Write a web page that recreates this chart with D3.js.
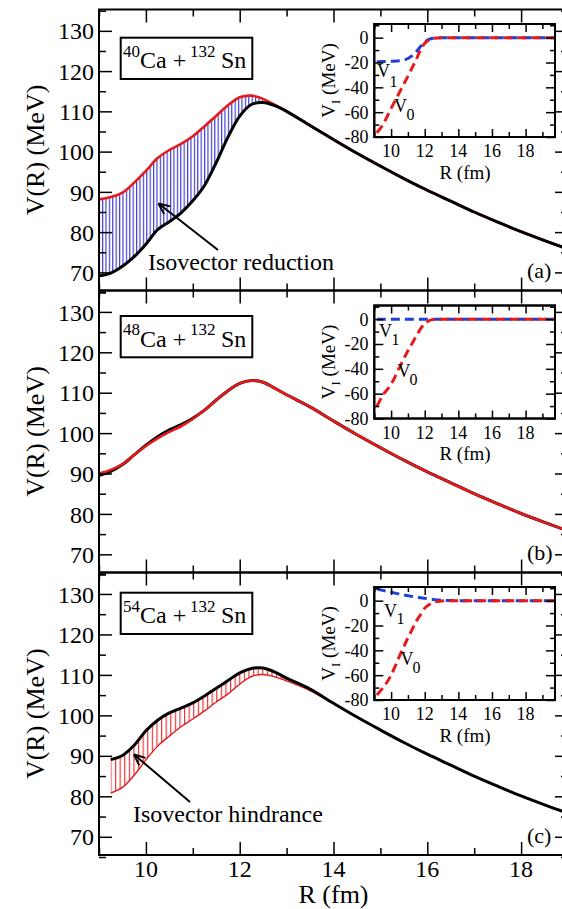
<!DOCTYPE html>
<meta charset="utf-8">
<style>
body { margin: 0; background: #fff; }
text { font-family: "Liberation Serif", "Times New Roman", Times, "Nimbus Roman", Tinos, "Noto Serif", "DejaVu Serif", serif; }
.frame { fill: none; stroke: #000; stroke-width: 2; }
.inframe { fill: #fff; stroke: #000; stroke-width: 2; }
.tk line { stroke: #000; stroke-width: 1.5; }
.tk path { display: none; }
.vblack { fill: none; stroke: #000; stroke-width: 3; }
.vred { fill: none; stroke: #e41a1c; stroke-width: 2.6; }
.vredthin { fill: none; stroke: #e41a1c; stroke-width: 1.4; }
.dash0 { fill: none; stroke: #e41a1c; stroke-width: 3; stroke-dasharray: 9,5; }
.dash1 { fill: none; stroke: #1f3fd8; stroke-width: 3; stroke-dasharray: 9,5; }
.arrow { stroke: #000; stroke-width: 2; fill: none; }
</style>
<body>
<script src="https://d3js.org/d3.v7.min.js"></script>
<script>
// ---- data ----
var rMain = [9.0, 9.25, 9.5, 9.75, 10.0, 10.25, 10.5, 10.75, 11.0, 11.25, 11.5, 11.75,
             12.0, 12.25, 12.5, 12.75, 13.0, 13.5, 14.0, 14.5, 15.0, 15.5, 16.0, 16.5,
             17.0, 17.5, 18.0, 18.5, 19.0];
// common Coulomb tail, R = 13.5 ... 19
var vTail = [106.5, 103.0, 99.6, 96.4, 93.3, 90.4, 87.7, 85.0, 82.5, 80.1, 77.9, 75.8];

// (a) 40Ca + 132Sn
var redA = [88.1, 88.7, 89.8, 92.3, 95.2, 98.4, 100.4, 101.9, 103.8, 106.3, 108.9, 111.5,
            113.5, 113.9, 113.1, 111.6, 110.0].concat(vTail);
var blackA = [69.1, 69.8, 71.5, 73.9, 77.0, 80.6, 82.6, 84.8, 87.8, 91.6, 97.3, 103.6,
              108.8, 111.7, 112.2, 111.4, 110.0].concat(vTail);
// (b) 48Ca + 132Sn
var redB = [90.0, 90.9, 92.3, 94.6, 96.8, 98.7, 100.3, 101.7, 103.5, 105.7, 108.2, 110.5,
            112.3, 113.0, 112.6, 111.1, 109.5].concat(vTail);
var blackB = [89.5, 90.5, 92.2, 94.6, 97.0, 99.1, 100.8, 102.1, 103.7, 105.7, 108.2, 110.5,
              112.3, 113.0, 112.6, 111.1, 109.5].concat(vTail);
// (c) 54Ca + 132Sn
var redC = [null, 80.8, 82.2, 85.2, 89.0, 92.4, 94.9, 97.2, 99.1, 101.1, 103.3, 105.3,
            107.7, 109.6, 110.1, 109.5, 108.5, 106.1, 102.9].concat(vTail.slice(2));
var blackC = [null, 89.1, 90.1, 92.6, 96.2, 98.8, 100.6, 101.8, 103.1, 104.8, 106.7, 108.6,
              110.5, 111.6, 111.7, 110.7, 109.2].concat(vTail);

// insets: V_I (MeV) vs R (fm)
var rInset = [9.15, 9.5, 10, 10.5, 11, 11.25, 11.5, 11.75, 12, 12.25, 12.5, 13, 13.5, 14, 19.75];
var v1A = [-19.4, -19.2, -19.0, -18.6, -16.8, -14.5, -11.2, -7.2, -3.6, -1.3, -0.4, 0, 0, 0, 0];
var v0A = [-76.5, -70.3, -57.0, -44.0, -31.0, -24.3, -17.5, -9.8, -4.5, -1.8, -0.6, 0, 0, 0, 0];
var v1B = [0, 0, 0, 0, 0, 0, 0, 0, 0, 0, 0, 0, 0, 0, 0];
var v0B = [-70.2, -61.5, -52.4, -38.8, -25.5, -19.5, -13.5, -7.8, -3.6, -1.3, -0.3, 0, 0, 0, 0];
var v1C = [9.6, 8.3, 6.8, 5.3, 4.0, 3.4, 2.8, 2.3, 1.9, 1.4, 1.0, 0.4, 0.1, 0, 0];
var v0C = [-76.0, -70.5, -60.0, -44.6, -30.0, -23.2, -16.5, -11.3, -6.0, -3.3, -1.5, -0.3, 0, 0, 0];

var yTicksMain = [70, 80, 90, 100, 110, 120, 130];
var xTicksMain = [10, 12, 14, 16, 18];
var yTicksInset = [0, -20, -40, -60, -80];
var xTicksInset = [10, 12, 14, 16, 18];

var projectiles = ["40", "48", "54"];
var panelTags = ["(a)", "(b)", "(c)"];

// ---- layout ----
var W = 562, H = 909;
var panels = [
  { top: 9.5, bottom: 290.5, red: redA, black: blackA, v1: v1A, v0: v0A, redOnTop: false,
    box: 37.7, inTop: 24, fill: "hatchBlue", fillFrom: blackA, fillTo: redA, fillEnd: 12.7,
    l1: [377, 52.7, 389.5, 62.7], l0: [394, 87.7, 406.5, 96] },
  { top: 290.5, bottom: 572.5, red: redB, black: blackB, v1: v1B, v0: v0B, redOnTop: true,
    box: 316, inTop: 305.5, l1: [379, 31.2, 391.5, 39.5], l0: [397.5, 71.2, 409.5, 79.5] },
  { top: 572.5, bottom: 855, red: redC, black: blackC, v1: v1C, v0: v0C, redOnTop: false,
    thinRed: true, box: 592.7, inTop: 587, fill: "hatchRed", fillFrom: redC, fillTo: blackC,
    fillEnd: 13.3, l1: [384, 29.7, 396.5, 37], l0: [400.5, 78, 412.5, 86] }
];

var svg = d3.select("body").append("svg")
    .attr("width", W).attr("height", H);

// hatch patterns
var defs = svg.append("defs");
[["hatchBlue", "#3030d0", 3.4], ["hatchRed", "#e8282c", 4.6]].forEach(function(p) {
  defs.append("pattern")
      .attr("id", p[0])
      .attr("patternUnits", "userSpaceOnUse")
      .attr("width", p[2]).attr("height", 10)
    .append("line")
      .attr("x1", 0.6).attr("x2", 0.6).attr("y1", 0).attr("y2", 10)
      .attr("stroke", p[1]).attr("stroke-width", 1.1);
});

var x = d3.scaleLinear().domain([9, 19]).range([99, 568]);
var xi = d3.scaleLinear().domain([9, 19.75]).range([374.3, 555]);

function ticks(g, axisFn, scale, values, size, tr) {
  g.append("g").attr("class", "tk")
      .attr("transform", tr)
      .call(axisFn(scale).tickValues(values).tickSize(-size).tickFormat(""));
}

panels.forEach(function(p, k) {
  var g = svg.append("g");
  var y = d3.scaleLinear().domain([65.5, 135.3]).range([p.bottom, p.top]);

  var line = d3.line()
      .defined(function(d) { return d[1] != null; })
      .x(function(d) { return x(d[0]); })
      .y(function(d) { return y(d[1]); })
      .curve(d3.curveCatmullRom.alpha(0.5));

  // hatched region between the two potentials
  if (p.fill) {
    var pts = rMain.map(function(r, i) { return [r, p.fillFrom[i], p.fillTo[i]]; })
        .filter(function(d) { return d[1] != null && d[0] <= p.fillEnd; });
    g.append("path")
        .attr("fill", "url(#" + p.fill + ")")
        .attr("d", d3.area()
            .x(function(d) { return x(d[0]); })
            .y0(function(d) { return y(d[1]); })
            .y1(function(d) { return y(d[2]); })
            .curve(d3.curveCatmullRom.alpha(0.5))(pts));
  }

  var redPts = rMain.map(function(r, i) { return [r, p.red[i]]; });
  var blackPts = rMain.map(function(r, i) { return [r, p.black[i]]; });
  var redCls = p.thinRed ? "vredthin" : "vred";
  if (p.redOnTop) {
    g.append("path").attr("class", "vblack").attr("d", line(blackPts));
    g.append("path").attr("class", redCls).attr("d", line(redPts));
  } else {
    g.append("path").attr("class", redCls).attr("d", line(redPts));
    g.append("path").attr("class", "vblack").attr("d", line(blackPts));
  }

  // frame + ticks
  var h = p.bottom - p.top;
  g.append("rect").attr("class", "frame")
      .attr("x", 99).attr("y", p.top).attr("width", 568 - 99).attr("height", h);
  var minorX = [9, 11, 13, 15, 17, 19];
  var minorY = [65, 75, 85, 95, 105, 115, 125, 135];
  ticks(g, d3.axisBottom, x, xTicksMain, 13, "translate(0," + p.bottom + ")");
  ticks(g, d3.axisBottom, x, minorX, 7, "translate(0," + p.bottom + ")");
  ticks(g, d3.axisTop, x, xTicksMain, 13, "translate(0," + p.top + ")");
  ticks(g, d3.axisTop, x, minorX, 7, "translate(0," + p.top + ")");
  ticks(g, d3.axisLeft, y, yTicksMain, 13, "translate(99,0)");
  ticks(g, d3.axisLeft, y, minorY, 7, "translate(99,0)");
  ticks(g, d3.axisRight, y, yTicksMain, 13, "translate(568,0)");
  ticks(g, d3.axisRight, y, minorY, 7, "translate(568,0)");

  g.selectAll(".ylab").data(yTicksMain).enter().append("text")
      .attr("x", 94).attr("y", function(d) { return y(d); })
      .attr("dy", "0.36em").attr("text-anchor", "end")
      .style("font-size", "24px").text(function(d) { return d; });

  g.append("text")
      .attr("transform", "translate(44," + ((p.top + p.bottom) / 2) + ") rotate(-90)")
      .attr("text-anchor", "middle").style("font-size", "26px")
      .text("V(R) (MeV)");

  // reaction label
  var b = p.box;
  g.append("rect").attr("x", 120.7).attr("y", b).attr("width", 131.6).attr("height", 41.3)
      .attr("fill", "#fff").attr("stroke", "#000").attr("stroke-width", 2);
  g.append("text").attr("x", 123).attr("y", b + 19).style("font-size", "17px").text(projectiles[k]);
  g.append("text").attr("x", 140).attr("y", b + 30.6).style("font-size", "24px").text("Ca +");
  g.append("text").attr("x", 190).attr("y", b + 19).style("font-size", "17px").text("132");
  g.append("text").attr("x", 221).attr("y", b + 30.6).style("font-size", "24px").text("Sn");

  g.append("text").attr("x", 527).attr("y", p.bottom - 12.5)
      .style("font-size", "22px").text(panelTags[k]);

  // ---- inset ----
  var it = p.inTop, ib = it + 113;
  var yi = d3.scaleLinear().domain([-80, 11]).range([ib, it]);
  var ig = svg.append("g");
  ig.append("rect").attr("class", "inframe")
      .attr("x", 374.3).attr("y", it).attr("width", 555 - 374.3).attr("height", ib - it);
  var iline = d3.line()
      .x(function(d) { return xi(d[0]); })
      .y(function(d) { return yi(d[1]); })
      .curve(d3.curveMonotoneX);
  ig.append("path").attr("class", "dash1")
      .attr("d", iline(rInset.map(function(r, i) { return [r, p.v1[i]]; })));
  ig.append("path").attr("class", "dash0")
      .attr("d", iline(rInset.map(function(r, i) { return [r, p.v0[i]]; })));
  ig.append("rect").attr("class", "frame")
      .attr("x", 374.3).attr("y", it).attr("width", 555 - 374.3).attr("height", ib - it);

  var iMinX = [9, 11, 13, 15, 17, 19];
  var iMinY = [-70, -50, -30, -10, 10];
  ticks(ig, d3.axisBottom, xi, xTicksInset, 8, "translate(0," + ib + ")");
  ticks(ig, d3.axisBottom, xi, iMinX, 5, "translate(0," + ib + ")");
  ticks(ig, d3.axisTop, xi, xTicksInset, 8, "translate(0," + it + ")");
  ticks(ig, d3.axisTop, xi, iMinX, 5, "translate(0," + it + ")");
  ticks(ig, d3.axisLeft, yi, yTicksInset, 9, "translate(374.3,0)");
  ticks(ig, d3.axisLeft, yi, iMinY, 5, "translate(374.3,0)");
  ticks(ig, d3.axisRight, yi, yTicksInset, 9, "translate(555,0)");
  ticks(ig, d3.axisRight, yi, iMinY, 5, "translate(555,0)");

  ig.selectAll(".iy").data(yTicksInset).enter().append("text")
      .attr("x", 368.5).attr("y", function(d) { return yi(d); })
      .attr("dy", "0.36em").attr("text-anchor", "end")
      .style("font-size", "18px").text(function(d) { return d; });
  ig.selectAll(".ix").data(xTicksInset).enter().append("text")
      .attr("x", function(d) { return xi(d); }).attr("y", ib + 20)
      .attr("text-anchor", "middle")
      .style("font-size", "18px").text(function(d) { return d; });
  ig.append("text").attr("x", 465).attr("y", ib + 41.7)
      .attr("text-anchor", "middle").style("font-size", "19px").text("R (fm)");
  var vl = ig.append("text")
      .attr("transform", "translate(334.5," + ((it + ib) / 2) + ") rotate(-90)")
      .attr("text-anchor", "middle").style("font-size", "19px");
  vl.append("tspan").text("V");
  vl.append("tspan").attr("dy", 5).style("font-size", "13px").text("I");
  vl.append("tspan").attr("dy", -5).text(" (MeV)");

  // V1 / V0 labels
  [[p.l1, "1"], [p.l0, "0"]].forEach(function(l) {
    ig.append("text").attr("x", l[0][0]).attr("y", it + l[0][1])
        .style("font-size", "18px").text("V");
    ig.append("text").attr("x", l[0][2]).attr("y", it + l[0][3])
        .style("font-size", "16px").text(l[1]);
  });
});

// annotations
function arrow(x1, y1, x2, y2) {
  svg.append("line").attr("class", "arrow")
      .attr("x1", x1).attr("y1", y1).attr("x2", x2).attr("y2", y2);
  var a = Math.atan2(y1 - y2, x1 - x2), L = 12;
  [a - 0.42, a + 0.42].forEach(function(t) {
    svg.append("line").attr("class", "arrow")
        .attr("x1", x2).attr("y1", y2)
        .attr("x2", x2 + L * Math.cos(t)).attr("y2", y2 + L * Math.sin(t));
  });
}
arrow(218, 250, 158.5, 203.5);
svg.append("text").attr("x", 148).attr("y", 270).style("font-size", "24px")
    .text("Isovector reduction");
arrow(190, 802, 134, 754.5);
svg.append("text").attr("x", 133).attr("y", 822).style("font-size", "24px")
    .text("Isovector hindrance");

// bottom x axis labels
svg.selectAll(".xlab").data(xTicksMain).enter().append("text")
    .attr("x", function(d) { return x(d); }).attr("y", 877)
    .attr("text-anchor", "middle").style("font-size", "24px")
    .text(function(d) { return d; });
svg.append("text").attr("x", 333.5).attr("y", 903)
    .attr("text-anchor", "middle").style("font-size", "26px").text("R (fm)");
</script>
